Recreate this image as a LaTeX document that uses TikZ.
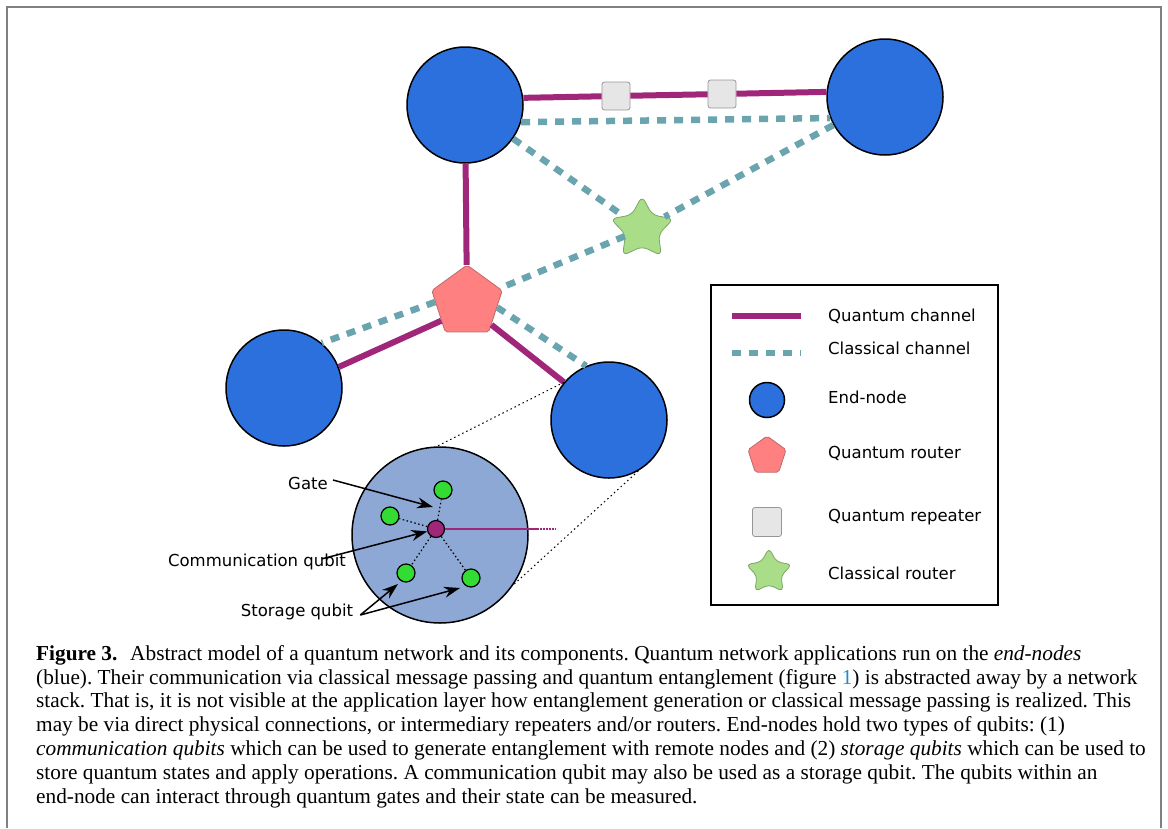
\documentclass[tikz,border=0pt]{standalone}
\usepackage{fontspec}
\setmainfont{Liberation Serif}
\newfontfamily\labelsans{DejaVu Sans}
\usepackage{xcolor}
\usetikzlibrary{shapes.geometric}
\usetikzlibrary{arrows.meta}
\definecolor{endblue}{RGB}{44,112,222}
\definecolor{zoomblue}{RGB}{141,168,212}
\definecolor{qpurple}{RGB}{160,38,122}
\definecolor{cteal}{RGB}{106,165,175}
\definecolor{routerred}{RGB}{255,128,128}
\definecolor{routeredge}{RGB}{190,105,105}
\definecolor{stargreen}{RGB}{170,221,136}
\definecolor{staredge}{RGB}{125,165,105}
\definecolor{repgrey}{RGB}{230,230,230}
\definecolor{repedge}{RGB}{150,150,150}
\definecolor{qgreen}{RGB}{50,220,50}
\definecolor{framegrey}{RGB}{128,128,128}
\definecolor{linkblue}{RGB}{30,140,210}
\tikzstyle{endnode} = [circle,draw=black,line width=1.5pt,fill=endblue,minimum size=116pt,inner sep=0pt]
\tikzstyle{qrouter} = [regular polygon,regular polygon sides=5,draw=routeredge,fill=routerred,line width=0.8pt,minimum size=74pt,inner sep=0pt,rounded corners=2pt]
\tikzstyle{crouter} = [star,star points=5,star point ratio=1.9,draw=staredge,fill=stargreen,line width=0.8pt,minimum size=66pt,inner sep=0pt,rounded corners=6pt]
\tikzstyle{qrepeater} = [rectangle,draw=repedge,fill=repgrey,line width=0.8pt,minimum size=28pt,inner sep=0pt,rounded corners=2.5pt]
\tikzstyle{qchan} = [line width=6pt,draw=qpurple]
\tikzstyle{cchan} = [line width=6.5pt,draw=cteal,dash pattern=on 9pt off 8pt]
\tikzstyle{qubit} = [circle,draw=black,line width=1.2pt,fill=qgreen,minimum size=18pt,inner sep=0pt]
\tikzstyle{lbl} = [font=\labelsans\fontsize{16.5}{19}\selectfont,inner sep=0pt]
\tikzstyle{arrow} = [line width=1.5pt,-{Stealth[length=16pt,width=11pt]}]

\begin{document}
\frenchspacing
\begin{tikzpicture}[x=1pt,y=-1pt]
  \useasboundingbox (0,0) rectangle (1168,828);
  \draw[framegrey,line width=2.5pt] (7,828) -- (7,7) -- (1161,7) -- (1161,828);

  % network
  \node[endnode] (nA) at (465,105) {};
  \node[endnode] (nB) at (885,97) {};
  \node[endnode] (nC) at (284,388) {};
  \node[endnode] (nD) at (609,420) {};
  \node[qrouter] (router) at (467,302) {};
  \node[crouter] (star) at (642,229) {};
  \node[qrepeater] (rep1) at (616,96) {};
  \node[qrepeater] (rep2) at (722,94) {};

  \path[qchan]
    (nA.7) edge (rep1)
    (rep1) edge (rep2)
    (rep2) edge (nB.175)
    (nA) edge (router)
    (router.216) edge (nC.21)
    (router.-43) edge (nD.140);
  \path[cchan]
    (nA.-17) edge (nB.201)
    (nA) edge (star)
    (nB) edge (star)
    (star) edge (router)
    (router.180) edge (nC.50)
    (router.-10) edge (nD.113);

  % zoom into an end-node
  \node[circle,draw=black,line width=1.5pt,fill=zoomblue,minimum size=176pt,inner sep=0pt] (zoom) at (440,535) {};
  \draw[line width=1pt,dash pattern=on 1.5pt off 3pt] (nD.140) -- (zoom.92);
  \draw[line width=1pt,dash pattern=on 1.5pt off 3pt] (nD.-60) -- (zoom.-34);

  \node[qubit] (g1) at (443,490) {};
  \node[qubit] (g2) at (390,516) {};
  \node[qubit] (s1) at (406,573) {};
  \node[qubit] (s2) at (471,578) {};
  \node[circle,draw=black,line width=1.2pt,fill=qpurple,minimum size=17pt,inner sep=0pt] (comm) at (436,529) {};
  \coordinate (qend) at (537,529);
  \coordinate (qfade) at (556,529);
  \draw[qpurple,line width=1.5pt] (comm) -- (qend);
  \draw[qpurple,line width=1.5pt,dash pattern=on 1.5pt off 1.5pt] (qend) -- (qfade);
  \path[line width=1.2pt,dash pattern=on 1.5pt off 2.5pt]
    (comm) edge (g1)
    (comm) edge (g2)
    (comm) edge (s1)
    (comm) edge (s2);

  \node[lbl] (gatelbl) at (308,483) {Gate};
  \node[lbl] (commlbl) at (257,562) {Communication qubit};
  \node[lbl] (storlbl) at (297,612) {Storage qubit};
  \coordinate (gatept) at (433,507);
  \coordinate (s1pt) at (398,584);
  \coordinate (s2pt) at (460,588);
  \path[arrow]
    ([xshift=5pt,yshift=3pt]gatelbl.east) edge (gatept)
    ([xshift=-24pt,yshift=-5pt]commlbl.north east) edge (comm.195)
    ([xshift=7pt,yshift=-3pt]storlbl.east) edge (s1pt)
    ([xshift=7pt,yshift=-3pt]storlbl.east) edge (s2pt);

  % legend
  \draw[line width=1.5pt] (711,285) rectangle (998,605);
  \coordinate (lq1) at (732,316);
  \coordinate (lq2) at (801,316);
  \coordinate (lc1) at (732,353);
  \coordinate (lc2) at (801,353);
  \draw[qchan] (lq1) -- (lq2);
  \draw[cchan] (lc1) -- (lc2);
  \node[endnode,minimum size=35pt] (lend) at (767,400) {};
  \node[qrouter,minimum size=40pt] (lrouter) at (767,456) {};
  \node[qrepeater,minimum size=29pt] (lrep) at (767,522) {};
  \node[crouter,minimum size=48pt,rounded corners=4.5pt] (lstar) at (769,572) {};
  \node[lbl,anchor=west] (tq) at (828,316) {Quantum channel};
  \node[lbl,anchor=west] (tc) at (828,348) {Classical channel};
  \node[lbl,anchor=west] (te) at (828,397) {End-node};
  \node[lbl,anchor=west] (tr) at (828,453) {Quantum router};
  \node[lbl,anchor=west] (tp) at (828,517) {Quantum repeater};
  \node[lbl,anchor=west] (ts) at (828,573) {Classical router};

  % caption (base = last line)
  \node[anchor=base west,align=left,inner sep=0pt,font=\fontsize{21.3}{23.8}\selectfont] (caption) at (36,803)
    {\textbf{Figure 3.}\hspace{0.6em}Abstract model of a quantum network and its components. Quantum network applications run on the \textit{end-nodes}\\
     (blue). Their communication via classical message passing and quantum entanglement (figure \textcolor{linkblue}{1}) is abstracted away by a network\\
     stack. That is, it is not visible at the application layer how entanglement generation or classical message passing is realized. This\\
     may be via direct physical connections, or intermediary repeaters and/or routers. End-nodes hold two types of qubits: (1)\\
     \textit{communication qubits} which can be used to generate entanglement with remote nodes and (2) \textit{storage qubits} which can be used to\\
     store quantum states and apply operations. A communication qubit may also be used as a storage qubit. The qubits within an\\
     end-node can interact through quantum gates and their state can be measured.};
\end{tikzpicture}
\end{document}
